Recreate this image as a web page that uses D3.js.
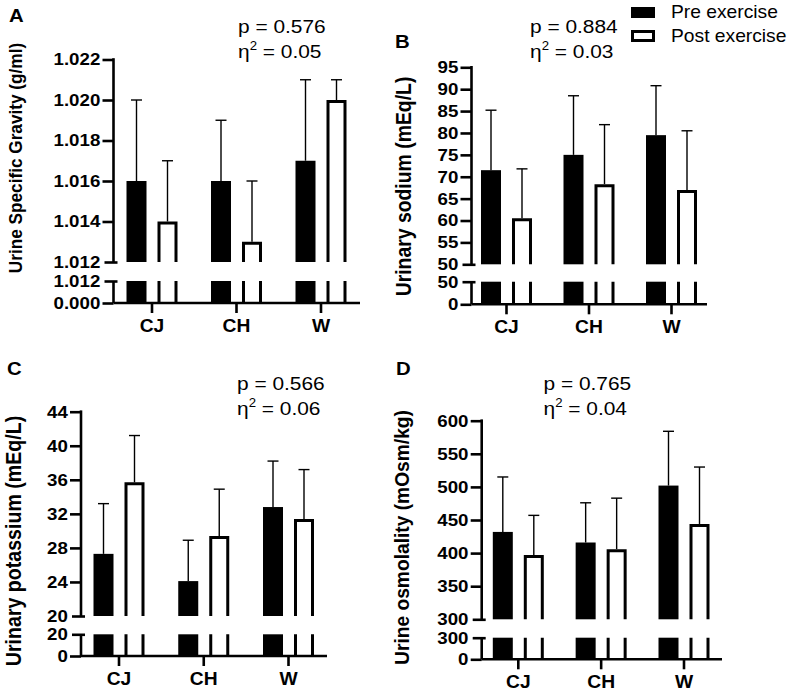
<!DOCTYPE html>
<html>
<head>
<meta charset="utf-8">
<script src="https://cdn.jsdelivr.net/npm/d3@7"></script>
<style>
  body { margin: 0; background: #fff; }
  svg { display: block; font-family: "Liberation Sans", Arial, sans-serif; }
</style>
</head>
<body>
<svg id="chart" width="790" height="693"></svg>
<script>
// ---------------- data ----------------
const categories = ["CJ", "CH", "W"];
const seriesNames = ["Pre exercise", "Post exercise"];

// A: Urine specific gravity
const sgPre = [1.016, 1.016, 1.017];
const sgPreSD = [0.004, 0.003, 0.004];
const sgPost = [1.014, 1.013, 1.020];
const sgPostSD = [0.003, 0.003, 0.001];
const sgTicks = [1.012, 1.014, 1.016, 1.018, 1.020, 1.022];

// B: Urinary sodium
const naPre = [71.5, 75.0, 79.5];
const naPreSD = [13.7, 13.5, 11.3];
const naPost = [60.5, 68.3, 67.0];
const naPostSD = [11.3, 13.6, 13.5];
const naTicks = [50, 55, 60, 65, 70, 75, 80, 85, 90, 95];

// C: Urinary potassium
const kPre = [27.3, 24.1, 32.8];
const kPreSD = [5.9, 4.8, 5.4];
const kPost = [35.7, 29.4, 31.4];
const kPostSD = [5.5, 5.5, 5.8];
const kTicks = [20, 24, 28, 32, 36, 40, 44];

// D: Urine osmolality
const osmPre = [432, 416, 502];
const osmPreSD = [83, 60, 82];
const osmPost = [397, 406, 444];
const osmPostSD = [60, 77, 86];
const osmTicks = [300, 350, 400, 450, 500, 550, 600];

const pLabels = ["p = 0.576", "p = 0.884", "p = 0.566", "p = 0.765"];
const etaLabels = ["0.05", "0.03", "0.06", "0.04"];

// ---------------- layout ----------------
const SX = 1.1; // horizontal text stretch seen in reference
const svg = d3.select("#chart");
svg.append("rect").attr("width", 790).attr("height", 693).attr("fill", "#fff");

const panels = [
  { letter: "A", letterPos: [9, 22], title: "Urine Specific Gravity (g/ml)", titleX: 22, titleY: 158, titleSize: 17.2,
    pre: sgPre, preSD: sgPreSD, post: sgPost, postSD: sgPostSD, ticks: sgTicks, fmt: d3.format(".3f"),
    axisX: 113.5, xRange: [152, 321], xEnd: 360,
    upDomain: [1.012, 1.022], upRange: [262, 59.5], lowRange: [303, 281],
    pPos: [238, 33] },
  { letter: "B", letterPos: [395, 48], title: "Urinary sodium (mEq/L)", titleX: 410.5, titleY: 186.5, titleSize: 19.4,
    pre: naPre, preSD: naPreSD, post: naPost, postSD: naPostSD, ticks: naTicks, fmt: d3.format("d"),
    axisX: 471.5, xRange: [506.5, 671.5], xEnd: 707,
    upDomain: [50, 95], upRange: [264.3, 67.3], lowRange: [304.3, 281.7],
    pPos: [530, 33] },
  { letter: "C", letterPos: [7, 375], title: "Urinary potassium (mEq/L)", titleX: 20.5, titleY: 541, titleSize: 19.6,
    pre: kPre, preSD: kPreSD, post: kPost, postSD: kPostSD, ticks: kTicks, fmt: d3.format("d"),
    axisX: 81, xRange: [119, 288.5], xEnd: 327,
    upDomain: [20, 44], upRange: [616, 411.7], lowRange: [656, 634.3],
    pPos: [237, 390] },
  { letter: "D", letterPos: [396, 375], title: "Urine osmolality (mOsm/kg)", titleX: 409, titleY: 537.5, titleSize: 19.2,
    pre: osmPre, preSD: osmPreSD, post: osmPost, postSD: osmPostSD, ticks: osmTicks, fmt: d3.format("d"),
    axisX: 481.7, xRange: [518.3, 684], xEnd: 722,
    upDomain: [300, 600], upRange: [619.3, 420.7], lowRange: [659.3, 637.7],
    pPos: [543.5, 390] }
];

const AX_W = 2.6;
const BAR_W = 20;
const OFF = 15.5;
const POST_SW = 3;

panels.forEach((cfg, pi) => {
  const g = svg.append("g");
  const lo = cfg.upDomain[0];
  const x = d3.scalePoint().domain(categories).range(cfg.xRange);
  const yUp = d3.scaleLinear().domain(cfg.upDomain).range(cfg.upRange);
  const yLow = d3.scaleLinear().domain([0, lo]).range(cfg.lowRange);
  const base = yLow(0), lowTop = yLow(lo), upBot = yUp(lo);

  const rows = categories.map((c, i) => ({
    c, pre: cfg.pre[i], preSD: cfg.preSD[i], post: cfg.post[i], postSD: cfg.postSD[i]
  }));

  // ----- pre bars (filled) -----
  g.selectAll(".preUp").data(rows).join("rect")
    .attr("x", d => x(d.c) - OFF - BAR_W / 2).attr("width", BAR_W)
    .attr("y", d => yUp(d.pre)).attr("height", d => upBot - yUp(d.pre))
    .attr("fill", "#000");
  g.selectAll(".preLow").data(rows).join("rect")
    .attr("x", d => x(d.c) - OFF - BAR_W / 2).attr("width", BAR_W)
    .attr("y", lowTop).attr("height", base - lowTop)
    .attr("fill", "#000");

  // ----- error bars -----
  const errs = [];
  rows.forEach(d => {
    errs.push({ cx: x(d.c) - OFF, v: d.pre, top: d.pre + d.preSD });
    errs.push({ cx: x(d.c) + OFF, v: d.post, top: d.post + d.postSD });
  });
  g.selectAll(".errV").data(errs).join("line")
    .attr("x1", d => d.cx).attr("x2", d => d.cx)
    .attr("y1", d => yUp(d.v)).attr("y2", d => yUp(d.top))
    .attr("stroke", "#000").attr("stroke-width", 1.4);
  g.selectAll(".errCap").data(errs).join("line")
    .attr("x1", d => d.cx - 5.5).attr("x2", d => d.cx + 5.5)
    .attr("y1", d => yUp(d.top)).attr("y2", d => yUp(d.top))
    .attr("stroke", "#000").attr("stroke-width", 1.4);

  // ----- post bars (outlined, open at the break) -----
  const half = BAR_W / 2 - POST_SW / 2;
  g.selectAll(".postUp").data(rows).join("path")
    .attr("d", d => {
      const cx = x(d.c) + OFF, t = yUp(d.post) + POST_SW / 2;
      return `M${cx - half},${upBot}V${t}H${cx + half}V${upBot}`;
    })
    .attr("fill", "#fff").attr("stroke", "#000").attr("stroke-width", POST_SW)
    .attr("stroke-linejoin", "miter");
  g.selectAll(".postLow").data(rows).join("path")
    .attr("d", d => {
      const cx = x(d.c) + OFF;
      return `M${cx - half},${lowTop}V${base}M${cx + half},${lowTop}V${base}`;
    })
    .attr("fill", "none").attr("stroke", "#000").attr("stroke-width", POST_SW);

  // ----- y axes -----
  const styleAxis = (sel) => {
    sel.select(".domain").remove();
    sel.selectAll(".tick line").attr("stroke", "#000").attr("stroke-width", AX_W);
    sel.selectAll(".tick text")
      .attr("fill", "#000").attr("font-size", 17).attr("font-weight", "bold")
      .attr("font-family", '"Liberation Sans", Arial, sans-serif')
      .attr("transform", `scale(${SX},1)`);
  };
  const upAxis = g.append("g").attr("transform", `translate(${cfg.axisX},0)`)
    .call(d3.axisLeft(yUp).tickValues(cfg.ticks).tickFormat(cfg.fmt).tickSize(11).tickPadding(1));
  styleAxis(upAxis);
  upAxis.selectAll(".tick").filter(d => d === lo).select("line").attr("x1", 4).attr("x2", -9);
  g.append("line").attr("x1", cfg.axisX).attr("x2", cfg.axisX)
    .attr("y1", yUp(cfg.upDomain[1]) - AX_W / 2).attr("y2", upBot)
    .attr("stroke", "#000").attr("stroke-width", AX_W);

  const lowAxis = g.append("g").attr("transform", `translate(${cfg.axisX},0)`)
    .call(d3.axisLeft(yLow).tickValues([0, lo]).tickFormat(cfg.fmt).tickSize(11).tickPadding(1));
  styleAxis(lowAxis);
  lowAxis.selectAll(".tick").filter(d => d === lo).select("line").attr("x1", 4).attr("x2", -9);
  g.append("line").attr("x1", cfg.axisX).attr("x2", cfg.axisX)
    .attr("y1", lowTop).attr("y2", base)
    .attr("stroke", "#000").attr("stroke-width", AX_W);

  // ----- x axis -----
  g.append("line").attr("x1", cfg.axisX).attr("x2", cfg.xEnd)
    .attr("y1", base).attr("y2", base)
    .attr("stroke", "#000").attr("stroke-width", AX_W);
  g.selectAll(".xt").data(categories).join("line")
    .attr("x1", d => x(d)).attr("x2", d => x(d))
    .attr("y1", base).attr("y2", base + 10)
    .attr("stroke", "#000").attr("stroke-width", AX_W);
  g.selectAll(".xl").data(categories).join("text")
    .attr("transform", d => `translate(${x(d)},${base + 29}) scale(${SX},1)`)
    .attr("text-anchor", "middle").attr("font-size", 17.5).attr("font-weight", "bold")
    .attr("fill", "#000").text(d => d);

  // ----- y title -----
  g.append("text")
    .attr("transform", `translate(${cfg.titleX},${cfg.titleY}) scale(${SX},1) rotate(-90)`)
    .attr("text-anchor", "middle").attr("font-size", cfg.titleSize).attr("font-weight", "bold")
    .attr("fill", "#000").text(cfg.title);

  // ----- panel letter -----
  g.append("text")
    .attr("transform", `translate(${cfg.letterPos[0]},${cfg.letterPos[1]}) scale(${SX},1)`)
    .attr("font-size", 18.5).attr("font-weight", "bold").attr("fill", "#000").text(cfg.letter);

  // ----- statistics text -----
  g.append("text")
    .attr("transform", `translate(${cfg.pPos[0]},${cfg.pPos[1]}) scale(${SX},1)`)
    .attr("font-size", 19).attr("fill", "#000").text(pLabels[pi]);
  const eta = g.append("text")
    .attr("transform", `translate(${cfg.pPos[0]},${cfg.pPos[1] + 25}) scale(${SX},1)`)
    .attr("font-size", 19).attr("fill", "#000");
  eta.append("tspan").text("η");
  eta.append("tspan").attr("font-size", 12).attr("dy", -8).text("2");
  eta.append("tspan").attr("dy", 8).text(" = " + etaLabels[pi]);
});

// ---------------- legend ----------------
const leg = svg.append("g");
const legY = [7, 31];
leg.append("rect").attr("x", 631).attr("y", legY[0]).attr("width", 24).attr("height", 11).attr("fill", "#000");
leg.append("rect").attr("x", 632.5).attr("y", legY[1] + 0.5).attr("width", 21).attr("height", 9)
  .attr("fill", "#fff").attr("stroke", "#000").attr("stroke-width", 3);
leg.selectAll(".lt").data(seriesNames).join("text")
  .attr("transform", (d, i) => `translate(671,${legY[i] + 11}) scale(${SX},1)`)
  .attr("font-size", 17.5).attr("fill", "#000").text(d => d);
</script>
</body>
</html>
